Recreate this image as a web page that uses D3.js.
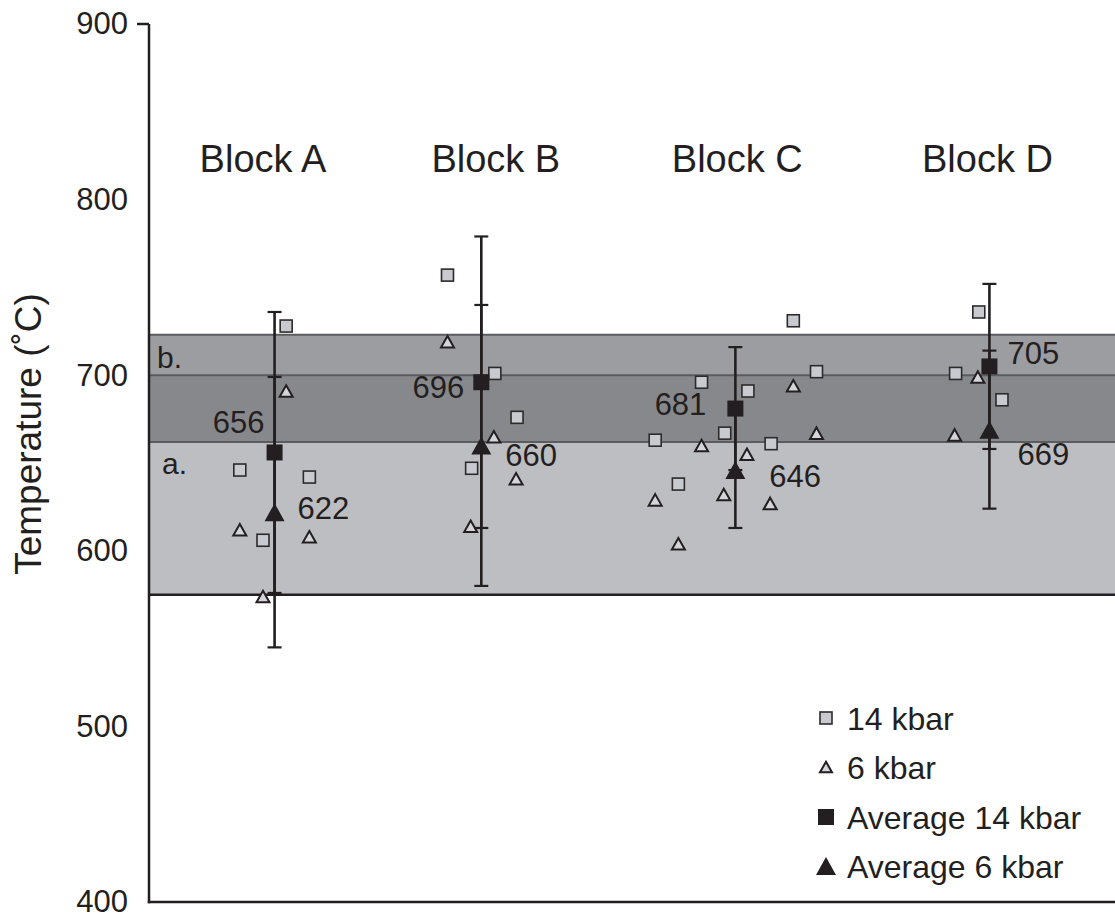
<!DOCTYPE html>
<html>
<head>
<meta charset="utf-8">
<script src="https://cdn.jsdelivr.net/npm/d3@7"></script>
<style>
  html, body { margin: 0; padding: 0; background: #fff; }
  svg { display: block; }
  text { font-family: "Liberation Sans", Arial, Helvetica, sans-serif; fill: #231f20; }
</style>
</head>
<body>
<svg id="chart" width="1115" height="921"></svg>
<script>
// ---------------- DATA ----------------
const blockNames = ["Block A", "Block B", "Block C", "Block D"];
const blockLabelX = [11.8, 35.9, 60.9, 86.8];     // x position (0-100 scale)
const blockBarX = [13.0, 34.4, 60.7, 87.0];       // x of averages / error bars

const yTicks = [400, 500, 600, 700, 800, 900];

// Temperature ranges (°C)
const bandA = [575, 700];
const bandB = [662, 723];

// individual estimates: [x, T]
const pts14 = [
  [14.2, 728], [9.4, 646], [16.6, 642], [11.8, 606],
  [30.9, 757], [35.8, 701], [38.1, 676], [33.4, 647],
  [66.7, 731], [69.1, 702], [57.2, 696], [62.0, 691], [59.6, 667], [52.4, 663], [64.4, 661], [54.8, 638],
  [85.9, 736], [83.5, 701], [88.3, 686]
];
const pts6 = [
  [14.2, 691], [9.4, 612], [16.6, 608], [11.8, 574],
  [30.9, 719], [35.7, 665], [38.0, 641], [33.3, 614],
  [66.7, 694], [69.1, 667], [57.2, 660], [61.9, 655], [59.5, 632], [52.4, 629], [64.3, 627], [54.8, 604],
  [85.8, 699], [83.4, 666]
];

const avg14 = [656, 696, 681, 705];
const err14 = [80, 83, 35, 47];
const avg6 = [622, 660, 646, 669];
const err6 = [77, 80, 33, 45];

const legendLabels = ["14 kbar", "6 kbar", "Average 14 kbar", "Average 6 kbar"];

// ---------------- LAYOUT ----------------
(function () {
const svg = d3.select("#chart");
const pL = 149, pR = 1115, pT = 24, pB = 902;
const x = d3.scaleLinear().domain([0, 100]).range([pL, pR]);
const y = d3.scaleLinear().domain([400, 900]).range([pB, pT]);
const ink = "#231f20";

// bands
const g = svg.append("g");
g.append("rect").attr("x", pL).attr("width", pR - pL)
  .attr("y", y(bandA[1])).attr("height", y(bandA[0]) - y(bandA[1])).attr("fill", "#bdbec1");
g.append("rect").attr("x", pL).attr("width", pR - pL)
  .attr("y", y(bandB[1])).attr("height", y(bandB[0]) - y(bandB[1])).attr("fill", "#9c9da0");
g.append("rect").attr("x", pL).attr("width", pR - pL)
  .attr("y", y(bandA[1])).attr("height", y(bandB[0]) - y(bandA[1])).attr("fill", "#87888b");
[bandB[1], bandA[1], bandB[0]].forEach(v => {
  g.append("line").attr("x1", pL).attr("x2", pR).attr("y1", y(v)).attr("y2", y(v))
    .attr("stroke", "#5b5c5f").attr("stroke-width", 2);
});
g.append("line").attr("x1", pL).attr("x2", pR).attr("y1", y(bandA[0])).attr("y2", y(bandA[0]))
  .attr("stroke", ink).attr("stroke-width", 2.5);

g.append("text").attr("x", 157).attr("y", y(bandB[1]) + 33).attr("font-size", 30).text("b.");
g.append("text").attr("x", 162).attr("y", y(bandB[0]) + 32).attr("font-size", 30).text("a.");

// axes
const yAxis = d3.axisLeft(y).tickValues(yTicks).tickSize(0).tickPadding(21).tickFormat(d3.format("d"));
const ax = svg.append("g").attr("transform", `translate(${pL},0)`).call(yAxis);
ax.select(".domain").remove();
ax.selectAll("text").attr("font-size", 31).attr("fill", ink)
  .style("font-family", "'Liberation Sans', Arial, sans-serif");
svg.append("line").attr("x1", pL).attr("x2", pL).attr("y1", pT).attr("y2", pB + 1.2)
  .attr("stroke", ink).attr("stroke-width", 2.5);
svg.append("line").attr("x1", pL - 12).attr("x2", pL).attr("y1", y(900)).attr("y2", y(900))
  .attr("stroke", ink).attr("stroke-width", 2.5);
svg.append("line").attr("x1", pL - 1.2).attr("x2", pR).attr("y1", pB).attr("y2", pB)
  .attr("stroke", ink).attr("stroke-width", 2.5);

svg.append("text")
  .attr("transform", `translate(41,${(pT + pB) / 2 - 29}) rotate(-90)`)
  .attr("text-anchor", "middle").attr("font-size", 37)
  .text("Temperature (˚C)");

// block labels
svg.selectAll(".blk").data(blockNames).join("text")
  .attr("x", (d, i) => x(blockLabelX[i])).attr("y", 172)
  .attr("text-anchor", "middle").attr("font-size", 38)
  .text(d => d);

// markers
const triPath = (w, h) => `M0,${-h / 2}L${w / 2},${h / 2}L${-w / 2},${h / 2}Z`;
const sqFill = "#c8cad0", triFill = "#d3d5da";

svg.selectAll(".p14").data(pts14).join("rect")
  .attr("x", d => x(d[0]) - 6).attr("y", d => y(d[1]) - 6)
  .attr("width", 12).attr("height", 12)
  .attr("fill", sqFill).attr("stroke", "#2d2a2b").attr("stroke-width", 1.6);

svg.selectAll(".p6").data(pts6).join("path")
  .attr("transform", d => `translate(${x(d[0])},${y(d[1])})`)
  .attr("d", triPath(13, 11.5))
  .attr("fill", triFill).attr("stroke", ink).attr("stroke-width", 2).attr("stroke-linejoin", "miter");

// error bars
function errBars(avg, err) {
  avg.forEach((m, i) => {
    const cx = x(blockBarX[i]);
    svg.append("line").attr("x1", cx).attr("x2", cx).attr("y1", y(m + err[i])).attr("y2", y(m - err[i]))
      .attr("stroke", ink).attr("stroke-width", 2.6);
    [m + err[i], m - err[i]].forEach(v => {
      svg.append("line").attr("x1", cx - 7).attr("x2", cx + 7).attr("y1", y(v)).attr("y2", y(v))
        .attr("stroke", ink).attr("stroke-width", 2.2);
    });
  });
}
errBars(avg14, err14);
errBars(avg6, err6);

svg.selectAll(".a14").data(avg14).join("rect")
  .attr("x", (d, i) => x(blockBarX[i]) - 8).attr("y", d => y(d) - 8)
  .attr("width", 16).attr("height", 16).attr("fill", ink);
svg.selectAll(".a6").data(avg6).join("path")
  .attr("transform", (d, i) => `translate(${x(blockBarX[i])},${y(d)})`)
  .attr("d", triPath(20, 18)).attr("fill", ink);

// value labels
const off14 = [[-10, -30, "end"], [-17, 5, "end"], [-29, -4, "end"], [18, -13, "start"]];
const off6 = [[23, -4, "start"], [24, 10, "start"], [34, 6, "start"], [28, 25, "start"]];
function valLabels(avg, off) {
  svg.append("g").selectAll("text").data(avg).join("text")
    .attr("x", (d, i) => x(blockBarX[i]) + off[i][0])
    .attr("y", (d, i) => y(d) + off[i][1])
    .attr("dy", "0.35em").attr("text-anchor", (d, i) => off[i][2])
    .attr("font-size", 31).text(d => d);
}
valLabels(avg14, off14);
valLabels(avg6, off6);

// legend
const lg = svg.append("g");
const rowY = [718, 767, 817, 866];
const mx = 826;
lg.append("rect").attr("x", mx - 6).attr("y", rowY[0] - 6).attr("width", 12).attr("height", 12)
  .attr("fill", sqFill).attr("stroke", "#2d2a2b").attr("stroke-width", 1.6);
lg.append("path").attr("transform", `translate(${mx},${rowY[1]})`).attr("d", triPath(12, 10.5))
  .attr("fill", triFill).attr("stroke", ink).attr("stroke-width", 2);
lg.append("rect").attr("x", mx - 8).attr("y", rowY[2] - 8).attr("width", 16).attr("height", 16).attr("fill", ink);
lg.append("path").attr("transform", `translate(${mx},${rowY[3]})`).attr("d", triPath(20, 18)).attr("fill", ink);
lg.selectAll("text").data(legendLabels).join("text")
  .attr("x", 847).attr("y", (d, i) => rowY[i]).attr("dy", "0.36em")
  .attr("font-size", 32).text(d => d);
})();
</script>
</body>
</html>
